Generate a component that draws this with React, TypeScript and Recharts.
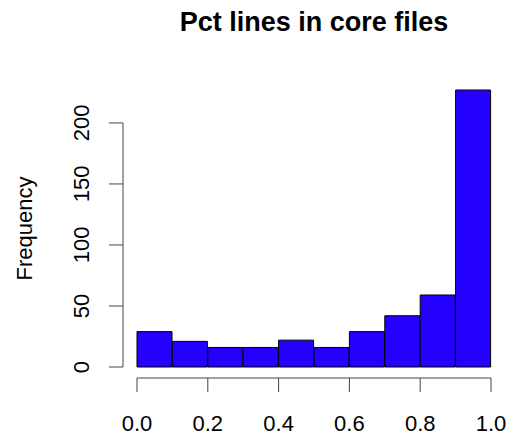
import { ComposedChart, Bar, XAxis, YAxis } from 'recharts'

// histogram bins (0.1 wide) and their counts
const binStarts = [0.0, 0.1, 0.2, 0.3, 0.4, 0.5, 0.6, 0.7, 0.8, 0.9]
const counts = [29, 21, 16, 16, 22, 16, 29, 42, 59, 227]
const xTicks = [0, 0.2, 0.4, 0.6, 0.8, 1.0]
const yTicks = [0, 50, 100, 150, 200]

const data = binStarts.map((x0, i) => ({ bin: `${x0.toFixed(1)}`, x0, count: counts[i] }))
const yMax = Math.max(...counts)

const W = 513
const H = 436
const TOP = 90
const RIGHT = 22
const Y_AXIS_W = 137
const CAT_AXIS_H = 11
const NUM_AXIS_H = 58
const PLOT_H = H - TOP - CAT_AXIS_H - NUM_AXIS_H
const AXIS_GAP = 14
const AXIS_COLOR = '#444'
const FONT = '"Liberation Sans", Arial, Helvetica, sans-serif'

const YTick = (props: any) => {
    const { x, y, payload, index } = props
    const ax = x - AXIS_GAP
    const lx = ax - 34
    const top = yTicks[yTicks.length - 1]
    return (
        <g>
            {index === 0 && (
                <line x1={ax} x2={ax} y1={y} y2={y - (PLOT_H * top) / yMax} stroke={AXIS_COLOR} />
            )}
            <line x1={ax - 14} x2={ax} y1={y} y2={y} stroke={AXIS_COLOR} />
            <text
                x={lx}
                y={y}
                transform={`rotate(-90 ${lx} ${y})`}
                textAnchor="middle"
                fontSize={22}
                fill="#000"
            >
                {payload.value}
            </text>
        </g>
    )
}

export default function App() {
    return (
        <div style={{ position: 'absolute', left: 0, top: 0, width: W, height: H, background: '#fff', fontFamily: FONT }}>
            <ComposedChart
                width={W}
                height={H}
                data={data}
                margin={{ top: TOP, right: RIGHT, left: 0, bottom: 0 }}
                barCategoryGap={0}
            >
                <XAxis
                    xAxisId="cat"
                    dataKey="bin"
                    height={CAT_AXIS_H}
                    axisLine={false}
                    tickLine={false}
                    tick={false}
                />
                <XAxis
                    xAxisId="num"
                    dataKey="x0"
                    type="number"
                    domain={[0, 1]}
                    ticks={xTicks}
                    tickFormatter={(v: number) => v.toFixed(1)}
                    height={NUM_AXIS_H}
                    stroke={AXIS_COLOR}
                    tickSize={14}
                    tickMargin={23}
                    tick={{ fill: '#000', fontSize: 22, fontFamily: FONT }}
                />
                <YAxis
                    domain={[0, yMax]}
                    ticks={yTicks}
                    width={Y_AXIS_W}
                    axisLine={false}
                    tickLine={false}
                    tickSize={0}
                    tickMargin={0}
                    tick={<YTick />}
                />
                <Bar
                    xAxisId="cat"
                    dataKey="count"
                    fill="#2400ff"
                    stroke="#000"
                    strokeWidth={1}
                    isAnimationActive={false}
                />
                <text x={314} y={31} textAnchor="middle" fontSize={27} fontWeight="bold" fill="#000" fontFamily={FONT}>
                    Pct lines in core files
                </text>
                <text
                    x={31.5}
                    y={228.5}
                    transform="rotate(-90 31.5 228.5)"
                    textAnchor="middle"
                    fontSize={22}
                    fill="#000"
                    fontFamily={FONT}
                >
                    Frequency
                </text>
            </ComposedChart>
        </div>
    )
}
